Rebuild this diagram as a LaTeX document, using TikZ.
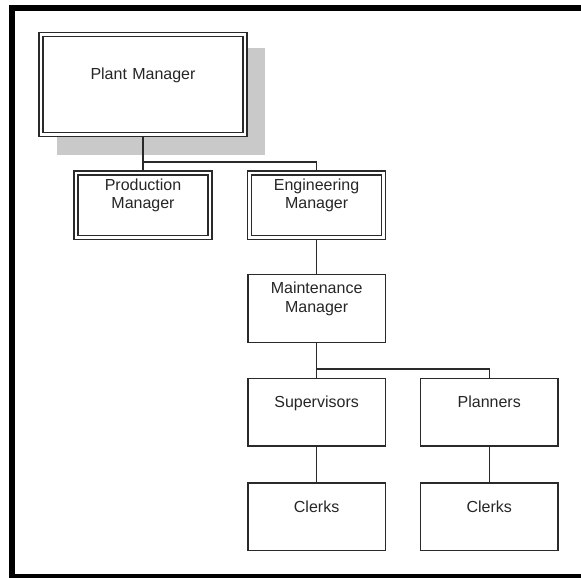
\documentclass[tikz,border=0pt]{standalone}
\usepackage{fontspec}
\setmainfont{Liberation Sans}
\usepackage{tikz}
\definecolor{boxline}{HTML}{2A2A2A}
\definecolor{boxtext}{HTML}{262626}
\definecolor{shadowgray}{HTML}{C9C9C9}
\tikzset{
  orgbox/.style={draw=boxline, line width=0.7pt, fill=white, inner sep=0pt,
    text=boxtext, align=center, font={\fontsize{8}{9.25}\selectfont}},
  dblbox/.style={orgbox, double=white, double distance=1.3pt, outer sep=1.35pt},
  link/.style={draw=boxline, line width=0.7pt},
}

\begin{document}
\begin{tikzpicture}[x=0.5pt,y=-0.5pt]
\useasboundingbox (0,0) rectangle (581,577);
% frame
\draw [line width=3pt] (581,7.8) -- (11.6,7.8) -- (11.6,577) -- (581,577);
% shadow of the top box
\fill [shadowgray] (57,48) rectangle (265,155);

% managers
\node [dblbox, text width=101.9pt, text height=22.25pt, text depth=27.65pt]
  (plant) at (143,84.5) {Plant Manager};
\node [dblbox, text width=67pt, text height=8.6pt, text depth=23.6pt]
  (prod) at (143,205.3) {Production\\Manager};
\node [dblbox, text width=67pt, text height=8.6pt, text depth=23.6pt]
  (eng) at (316.6,205.3) {Engineering\\Manager};
\node [orgbox, text width=68.75pt, text height=9.6pt, text depth=24.3pt]
  (maint) at (316.6,308.5) {Maintenance\\Manager};

% staff
\node [orgbox, text width=68.75pt, text height=14.7pt, text depth=19.2pt]
  (sup) at (316.6,412.2) {Supervisors};
\node [orgbox, text width=68.75pt, text height=14.7pt, text depth=19.2pt]
  (plan) at (489.2,412.2) {Planners};
\node [orgbox, text width=68.75pt, text height=14.7pt, text depth=19.2pt]
  (supclerks) at (316.6,516.7) {Clerks};
\node [orgbox, text width=68.75pt, text height=14.7pt, text depth=19.2pt]
  (planclerks) at (489.2,516.7) {Clerks};

% links
\draw [link] (plant.south) -- (prod.north);
\draw [link] (plant.south) ++(0,25) -| (eng.north);
\draw [link] (eng.south) -- (maint.north);
\draw [link] (maint.south) -- (sup.north);
\draw [link] (maint.south) ++(0,26) -| (plan.north);
\draw [link] (sup.south) -- (supclerks.north);
\draw [link] (plan.south) -- (planclerks.north);

\end{tikzpicture}
\end{document}
